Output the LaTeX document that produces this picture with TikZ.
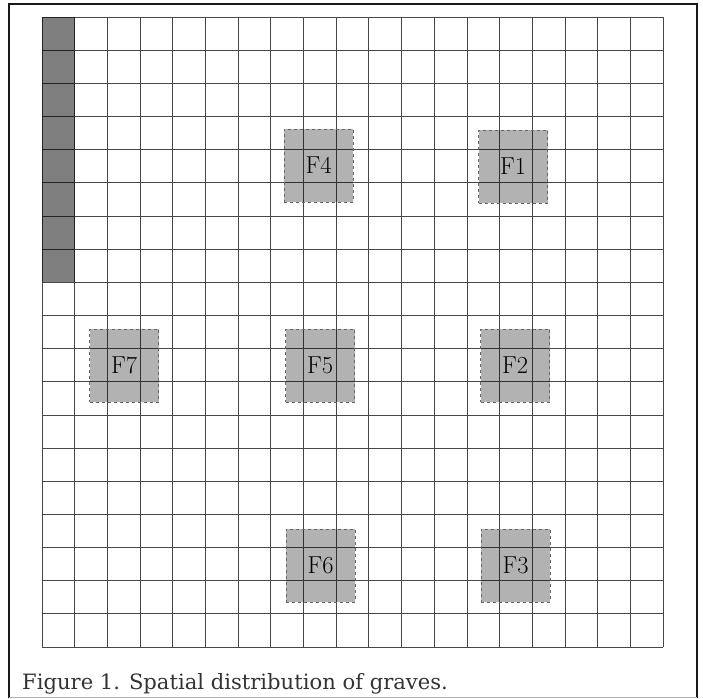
\documentclass[tikz,border=0pt]{standalone}
\usepackage{fontspec}
\newfontfamily\capfont{DejaVu Serif}
\begin{document}
\begin{tikzpicture}[x=1pt,y=-1pt,
  gridline/.style={draw=black!72,line width=0.8pt},
  grave/.style={draw=black!60,dashed,line width=0.8pt,fill=black,fill opacity=0.3,text opacity=1,
    minimum width=69pt,minimum height=73pt,inner sep=0pt,font=\fontsize{24.5}{24.5}\selectfont},
  frameline/.style={draw=black!90,line width=1.5pt}]
\useasboundingbox (0,0) rectangle (703,698);
% grid 19 x 19
\foreach \i in {0,...,19}{
  \draw[gridline] ({42+\i*32.684},17) -- ({42+\i*32.684},647);
  \draw[gridline] (42,{17+\i*33.158}) -- (663,{17+\i*33.158});
}
% dark column
\fill[black,fill opacity=0.5] (42,17) rectangle (74.7,282.3);
% graves
\node[grave] (f4) at (318.5,165.5) {F4};
\node[grave] (f1) at (513,166.5) {F1};
\node[grave] (f7) at (124,365.5) {F7};
\node[grave] (f5) at (320,365.5) {F5};
\node[grave] (f2) at (515,365.5) {F2};
\node[grave] (f6) at (320.5,565.5) {F6};
\node[grave] (f3) at (515.5,565.5) {F3};
% frame
\draw[frameline] (9,698) -- (9,4) -- (697,4) -- (697,698);
\draw[black!30,line width=1pt] (9,697) -- (697,697);
% caption
\node[anchor=base west,inner sep=0pt,text=black!80,font=\capfont\fontsize{21.1}{24}\selectfont] (cap) at (22,689) {Figure 1. Spatial distribution of graves.};
\end{tikzpicture}
\end{document}
